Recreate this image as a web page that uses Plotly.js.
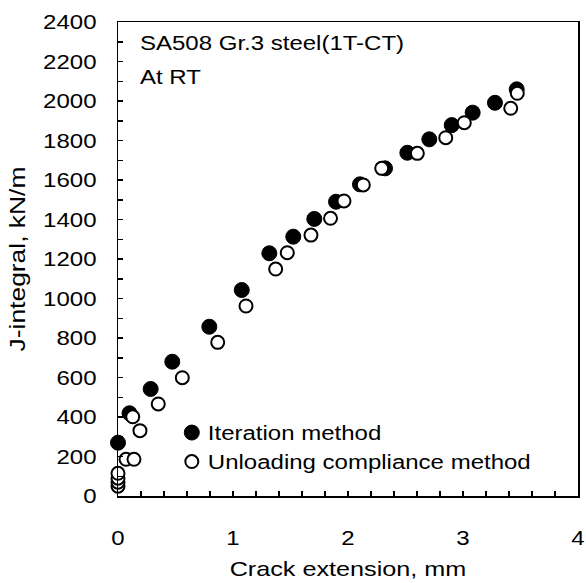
<!DOCTYPE html>
<html>
<head>
<meta charset="utf-8">
<script src="https://cdn.plot.ly/plotly-3.0.1.min.js"></script>
<style>
html,body{margin:0;padding:0;background:#fff;}
#chart{width:586px;height:583px;}
</style>
</head>
<body>
<div id="chart"></div>
<script>
// Iteration method (filled circles)
const iterX = [0, 0.10, 0.284, 0.472, 0.794, 1.076, 1.316, 1.524, 1.707, 1.896, 2.104, 2.322, 2.516, 2.707, 2.902, 3.084, 3.278, 3.467];
const iterY = [270, 419, 542, 680, 857, 1043, 1229, 1313, 1403, 1490, 1578, 1659, 1738, 1806, 1878, 1941, 1991, 2059];
// Unloading compliance method (open circles)
const ucX = [0, 0, 0, 0, 0.07, 0.139, 0.128, 0.191, 0.35, 0.559, 0.867, 1.113, 1.371, 1.472, 1.678, 1.848, 1.965, 2.133, 2.293, 2.603, 2.85, 3.011, 3.415, 3.472];
const ucY = [50, 70, 90, 115, 186, 186, 401, 331, 466, 599, 778, 962, 1149, 1232, 1321, 1406, 1494, 1575, 1659, 1735, 1814, 1890, 1963, 2039];

const seriesNames = ["Iteration method", "Unloading compliance method"];
const xTitle = "Crack extension, mm";
const yTitle = "J-integral, kN/m";
const noteLines = ["SA508 Gr.3 steel(1T-CT)", "At RT"];

const FONT = "Arial, 'Liberation Sans', Helvetica, sans-serif";
const STRETCH = 1.2; // reference lettering is wider than Arial

const traces = [
  {
    x: iterX, y: iterY, type: "scatter", mode: "markers", name: seriesNames[0],
    marker: {symbol: "circle", size: 15, color: "#000", line: {color: "#000", width: 1}},
    cliponaxis: false
  },
  {
    x: ucX, y: ucY, type: "scatter", mode: "markers", name: seriesNames[1],
    marker: {symbol: "circle", size: 13, color: "#fff", line: {color: "#000", width: 2}},
    cliponaxis: false
  }
];

const layout = {
  width: 586, height: 583,
  margin: {l: 118, r: 8, t: 22, b: 87},
  paper_bgcolor: "#fff", plot_bgcolor: "#fff",
  font: {family: FONT, size: 20, color: "#000"},
  showlegend: true,
  legend: {
    x: 0.117, y: 0.175, xanchor: "left", yanchor: "top",
    bgcolor: "rgba(0,0,0,0)", borderwidth: 0,
    font: {family: FONT, size: 20, color: "#000"},
    tracegroupgap: 0
  },
  xaxis: {
    range: [0, 4], dtick: 1, tick0: 0,
    ticks: "inside", ticklen: 5, tickwidth: 1.5, tickcolor: "#000",
    minor: {dtick: 0.2, ticks: "inside", ticklen: 5, tickwidth: 1.5, tickcolor: "#000"},
    showgrid: false, zeroline: false,
    showline: true, linecolor: "#000", linewidth: 1.5, mirror: true,
    tickfont: {family: FONT, size: 20, color: "#000"},
    ticklabelstandoff: 23,
    title: {text: xTitle, font: {family: FONT, size: 21, color: "#000"}, standoff: 14}
  },
  yaxis: {
    range: [0, 2400], dtick: 200, tick0: 0,
    ticks: "inside", ticklen: 5, tickwidth: 1.5, tickcolor: "#000",
    minor: {dtick: 100, ticks: "inside", ticklen: 5, tickwidth: 1.5, tickcolor: "#000"},
    showgrid: false, zeroline: false,
    showline: true, linecolor: "#000", linewidth: 1.5, mirror: true,
    tickfont: {family: FONT, size: 20, color: "#000"},
    ticklabelstandoff: 16,
    title: {text: yTitle, font: {family: FONT, size: 22, color: "#000"}, standoff: 20}
  },
  annotations: [
    {xref: "paper", yref: "paper", x: 0.043, y: 0.955, xanchor: "left", yanchor: "middle", align: "left",
     text: noteLines[0], showarrow: false, font: {family: FONT, size: 20, color: "#000"}},
    {xref: "paper", yref: "paper", x: 0.043, y: 0.885, xanchor: "left", yanchor: "middle", align: "left",
     text: noteLines[1], showarrow: false, font: {family: FONT, size: 20, color: "#000"}}
  ]
};

Plotly.newPlot("chart", traces, layout, {displayModeBar: false, staticPlot: true}).then(function (gd) {
  // widen every label horizontally (along its own direction) to match the reference lettering
  gd.querySelectorAll("svg text").forEach(function (el) {
    if (!el.textContent) return;
    const w = el.getComputedTextLength();
    if (w > 0) {
      el.setAttribute("textLength", (w * STRETCH).toFixed(2));
      el.setAttribute("lengthAdjust", "spacingAndGlyphs");
    }
  });
  // let the widened legend labels show in full, a little closer to their symbols
  gd.querySelectorAll(".legend [clip-path], .legend .scrollbox").forEach(function (el) {
    el.removeAttribute("clip-path");
  });
  gd.querySelectorAll(".legend text.legendtext").forEach(function (el) {
    const x0 = parseFloat(el.getAttribute("x") || "40");
    el.setAttribute("x", x0 - 4);
  });
});
</script>
</body>
</html>
